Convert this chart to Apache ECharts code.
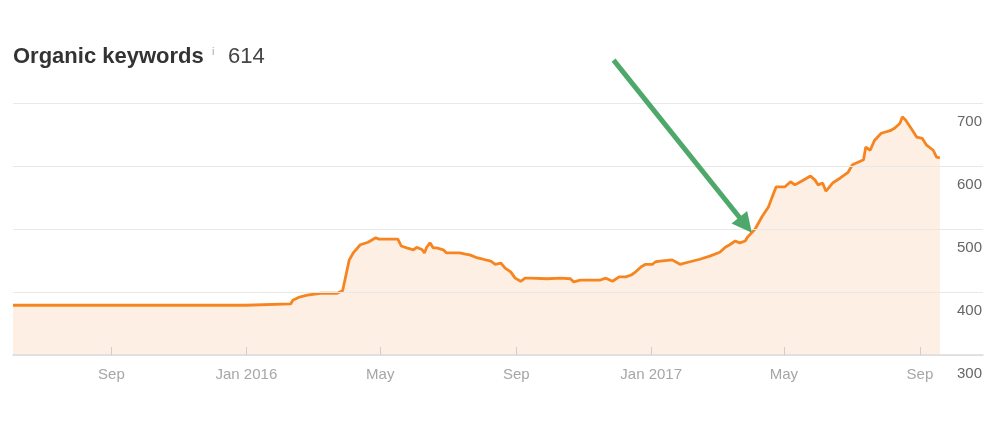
<!DOCTYPE html>
<html><head><meta charset="utf-8">
<script src="https://cdn.jsdelivr.net/npm/echarts@6/dist/echarts.min.js"></script>
<style>html,body{margin:0;padding:0;background:#fff}#c{width:1000px;height:425px}</style>
</head><body><div id="c"></div>
<script>
const dates = ['2015-06-04','2015-12-31','2016-01-01','2016-02-10','2016-02-12','2016-02-18','2016-02-25','2016-03-08','2016-03-23','2016-03-28','2016-04-03','2016-04-07','2016-04-13','2016-04-20','2016-04-27','2016-04-30','2016-05-17','2016-05-20','2016-05-25','2016-05-31','2016-06-03','2016-06-08','2016-06-10','2016-06-12','2016-06-15','2016-06-18','2016-06-21','2016-06-27','2016-06-30','2016-07-12','2016-07-13','2016-07-17','2016-07-21','2016-07-28','2016-08-02','2016-08-09','2016-08-13','2016-08-18','2016-08-22','2016-08-27','2016-08-31','2016-09-05','2016-09-09','2016-09-14','2016-09-29','2016-10-11','2016-10-20','2016-10-23','2016-10-29','2016-11-16','2016-11-21','2016-11-27','2016-12-03','2016-12-09','2016-12-14','2016-12-18','2016-12-23','2016-12-27','2017-01-02','2017-01-05','2017-01-09','2017-01-20','2017-01-27','2017-02-05','2017-02-14','2017-02-23','2017-03-04','2017-03-09','2017-03-13','2017-03-18','2017-03-22','2017-03-27','2017-03-29','2017-04-05','2017-04-11','2017-04-17','2017-04-20','2017-04-24','2017-05-02','2017-05-07','2017-05-11','2017-05-16','2017-05-20','2017-05-25','2017-05-29','2017-06-01','2017-06-05','2017-06-08','2017-06-14','2017-06-21','2017-06-28','2017-07-02','2017-07-07','2017-07-12','2017-07-14','2017-07-18','2017-07-22','2017-07-28','2017-08-05','2017-08-09','2017-08-14','2017-08-16','2017-08-19','2017-08-25','2017-08-29','2017-09-03','2017-09-07','2017-09-13','2017-09-16','2017-09-19'];
const values = [379,379,381,381,387,392,395,398,398,402,451,463,475,479,486,484,484,473,470,467,471,467,462,471,478,470,470,467,462,462,465,460,459,454,452,449,444,446,438,432,422,417,422,422,421,422,421,416,419,419,422,417,424,424,427,432,440,444,444,448,449,451,444,448,452,457,463,471,475,481,478,481,487,500,519,535,549,567,567,575,570,575,579,584,578,570,573,560,573,581,590,602,606,610,630,625,641,652,656,660,668,678,673,657,646,644,633,625,614,613];
const tickDates = ['2015-09-01','2016-01-01','2016-05-01','2016-09-01','2017-01-01','2017-05-01','2017-09-01'];
const tickLabels = ['Sep','Jan 2016','May','Sep','Jan 2017','May','Sep'];
const axisStart = '2015-06-04';
const axisEnd = '2017-10-28';
const yMin = 300, yMax = 700, yStep = 100;
const titleText = 'Organic keywords';
const titleValue = '614';
// annotation arrow, in data coordinates
const arrowFrom = ['2016-11-28', 768];
const arrowTo = ['2017-04-02', 494];

function ts(s){const p=s.split('-').map(Number);return Date.UTC(p[0],p[1]-1,p[2]);}
const seriesData = dates.map((d,i)=>[ts(d), values[i]]);
const tickTs = tickDates.map(ts);
const labelMap = {}; tickTs.forEach((t,i)=>labelMap[t]=tickLabels[i]);
const FONT = '"Liberation Sans", Arial, Helvetica, sans-serif';

const chart = echarts.init(document.getElementById('c'), null, {renderer:'canvas'});
chart.setOption({
  animation:false,
  backgroundColor:'#fff',
  title:[
    {text:titleText,left:13,top:46,padding:0,textStyle:{fontFamily:FONT,fontSize:22,fontWeight:'bold',color:'#333'}},
    {text:'i',left:212,top:46,padding:0,textStyle:{fontFamily:FONT,fontSize:11,fontWeight:'normal',color:'#aaa'}},
    {text:titleValue,left:228,top:46,padding:0,textStyle:{fontFamily:FONT,fontSize:22,fontWeight:'normal',color:'#444'}}
  ],
  grid:{left:13,right:17,top:103,bottom:70,containLabel:false},
  xAxis:{
    type:'value',min:ts(axisStart),max:ts(axisEnd),z:5,
    axisLine:{show:true,lineStyle:{color:'#dcdcdc',width:1.5}},
    axisTick:{show:true,inside:true,length:8,customValues:tickTs,lineStyle:{color:'#cfcfcf',width:1}},
    axisLabel:{customValues:tickTs,margin:12,fontFamily:FONT,fontSize:15,color:'#a6a6a6',
      formatter:function(v){return labelMap[v]!==undefined?labelMap[v]:'';}},
    splitLine:{show:false}
  },
  yAxis:{
    type:'value',position:'right',min:yMin,max:yMax,interval:yStep,z:5,
    axisLine:{show:false},axisTick:{show:false},
    axisLabel:{inside:true,margin:1,verticalAlign:'top',padding:[11,0,0,0],fontFamily:FONT,fontSize:15,color:'#666'},
    splitLine:{show:true,lineStyle:{color:'#e8e8e8',width:1}}
  },
  series:[{
    type:'line',data:seriesData,showSymbol:false,symbol:'none',
    lineStyle:{color:'#f7851f',width:2.8},
    areaStyle:{color:'#fdefe3',opacity:1,origin:'start'},
    z:3
  }]
});

function drawArrow(){
  const s = chart.convertToPixel({xAxisIndex:0,yAxisIndex:0},[ts(arrowFrom[0]),arrowFrom[1]]);
  const t = chart.convertToPixel({xAxisIndex:0,yAxisIndex:0},[ts(arrowTo[0]),arrowTo[1]]);
  const dx=t[0]-s[0], dy=t[1]-s[1], L=Math.sqrt(dx*dx+dy*dy);
  const ux=dx/L, uy=dy/L, nx=-uy, ny=ux;
  const hl=20, hw=10;
  const bx=t[0]-ux*hl, by=t[1]-uy*hl;
  chart.setOption({graphic:[
    {type:'line',shape:{x1:s[0],y1:s[1],x2:bx+ux*2,y2:by+uy*2},style:{stroke:'#4ea86b',lineWidth:5},z:10},
    {type:'polygon',shape:{points:[[t[0],t[1]],[bx+nx*hw,by+ny*hw],[bx-nx*hw,by-ny*hw]]},style:{fill:'#4ea86b'},z:10}
  ]});
}
drawArrow();
</script></body></html>
